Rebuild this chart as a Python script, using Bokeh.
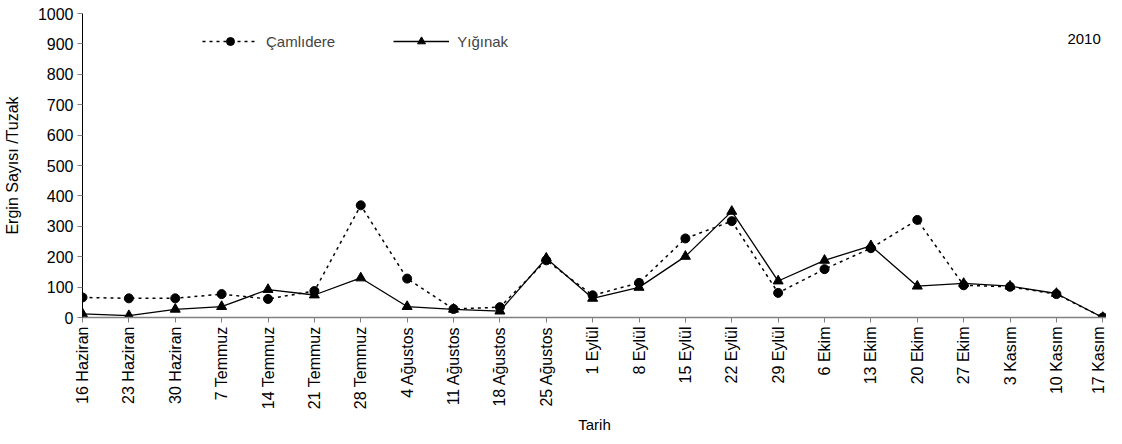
import math
from bokeh.plotting import figure
from bokeh.models import Range1d, FixedTicker, Legend, LegendItem, Label
from bokeh.embed import file_html
from bokeh.resources import INLINE

dates = ["16 Haziran", "23 Haziran", "30 Haziran", "7 Temmuz", "14 Temmuz", "21 Temmuz",
         "28 Temmuz", "4 Ağustos", "11 Ağustos", "18 Ağustos", "25 Ağustos", "1 Eylül",
         "8 Eylül", "15 Eylül", "22 Eylül", "29 Eylül", "6 Ekim", "13 Ekim", "20 Ekim",
         "27 Ekim", "3 Kasım", "10 Kasım", "17 Kasım"]
camlidere = [66, 63, 63, 77, 61, 87, 369, 128, 28, 34, 188, 73, 114, 260, 317, 81,
             159, 228, 321, 106, 101, 77, 0]
yiginak = [12, 6, 27, 36, 92, 74, 130, 36, 27, 21, 195, 63, 99, 201, 349, 120,
           188, 236, 103, 112, 103, 79, 0]
y_ticks = list(range(0, 1001, 100))
year_label = "2010"

xs = list(range(len(dates)))
FONT = "Liberation Sans"

p = figure(width=1106, height=436, output_backend="svg", toolbar_location=None,
           x_range=Range1d(0, len(dates) - 1 + 0.08), y_range=Range1d(0, 1000),
           min_border_left=74, min_border_top=13, min_border_right=0, min_border_bottom=0)
p.outline_line_color = None
p.xgrid.grid_line_color = None
p.ygrid.grid_line_color = None
p.background_fill_color = "white"

# y axis
ya = p.yaxis[0]
ya.ticker = FixedTicker(ticks=y_ticks)
ya.minor_tick_line_color = None
ya.axis_line_color = "black"
ya.major_tick_line_color = "#808080"
ya.major_tick_in = 0
ya.major_tick_out = 5
ya.major_label_standoff = 4
ya.major_label_text_font = FONT
ya.major_label_text_font_size = "16px"
ya.major_label_text_color = "black"
ya.axis_label = "Ergin Sayısı /Tuzak"
ya.axis_label_text_font = FONT
ya.axis_label_text_font_size = "16px"
ya.axis_label_text_font_style = "normal"
ya.axis_label_text_color = "black"
ya.axis_label_standoff = 14

# x axis
xa = p.xaxis[0]
xa.ticker = FixedTicker(ticks=xs)
xa.major_label_overrides = {i: d for i, d in enumerate(dates)}
xa.major_label_orientation = math.pi / 2
xa.minor_tick_line_color = None
xa.axis_line_color = "#808080"
xa.axis_line_width = 1.5
xa.major_tick_line_color = "#808080"
xa.major_tick_in = 0
xa.major_tick_out = 5
xa.major_label_standoff = 4
xa.major_label_text_font = FONT
xa.major_label_text_font_size = "16px"
xa.major_label_text_color = "black"
xa.axis_label = "Tarih"
xa.axis_label_text_font = FONT
xa.axis_label_text_font_size = "15px"
xa.axis_label_text_font_style = "normal"
xa.axis_label_text_color = "black"
xa.axis_label_standoff = 4

l1 = p.line(xs, camlidere, line_color="black", line_width=1.5, line_dash="3 4")
m1 = p.scatter(xs, camlidere, marker="circle", size=9, fill_color="black", line_color="black")
l2 = p.line(xs, yiginak, line_color="black", line_width=1.3)
m2 = p.scatter(xs, yiginak, marker="triangle", size=10, fill_color="black", line_color="black")

legend = Legend(items=[LegendItem(label="Çamlıdere", renderers=[l1, m1]),
                       LegendItem(label="Yığınak", renderers=[l2, m2])],
                orientation="horizontal", location=(120, 266),
                glyph_width=56, glyph_height=20, label_standoff=8, spacing=58,
                padding=0, margin=0, border_line_color=None,
                background_fill_alpha=0,
                label_text_font=FONT, label_text_font_size="15px")
p.add_layout(legend, "center")

p.add_layout(Label(x=len(dates) - 1, y=915, text=year_label, text_align="right",
                   text_baseline="middle", x_offset=-2, text_font=FONT,
                   text_font_size="15px", text_color="black"))

open("out.html", "w").write(file_html(p, INLINE))
